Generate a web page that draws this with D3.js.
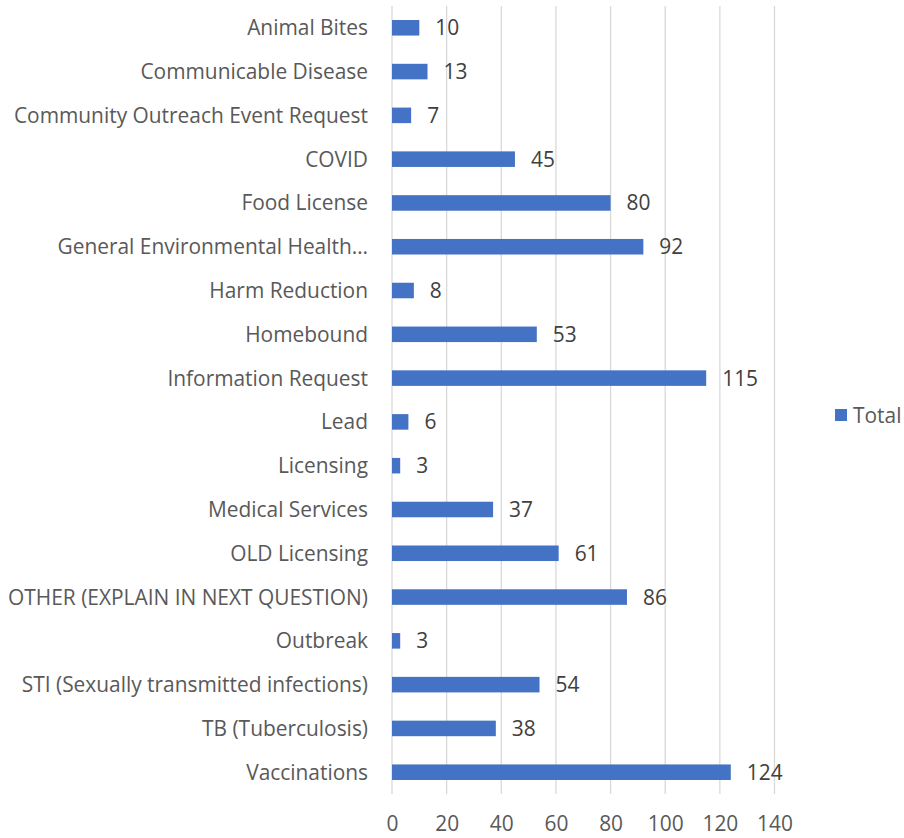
<!DOCTYPE html>
<html><head><meta charset="utf-8">
<script src="https://d3js.org/d3.v7.min.js"></script>
<style>body{margin:0;background:#fff}svg{display:block}</style>
</head><body>
<script>
const categories = ["Animal Bites","Communicable Disease","Community Outreach Event Request","COVID","Food License","General Environmental Health…","Harm Reduction","Homebound","Information Request","Lead","Licensing","Medical Services","OLD Licensing","OTHER (EXPLAIN IN NEXT QUESTION)","Outbreak","STI (Sexually transmitted infections)","TB (Tuberculosis)","Vaccinations"];
const values = [10,13,7,45,80,92,8,53,115,6,3,37,61,86,3,54,38,124];
const xTicks = [0,20,40,60,80,100,120,140];
const seriesName = "Total";

const W=904,H=838;
const svg=d3.select("body").append("svg").attr("width",W).attr("height",H);
const font="'Open Sans', sans-serif";
const fs=20.9;
const x=d3.scaleLinear().domain([0,140]).range([392,774.5]);
const y=d3.scaleBand().domain(categories).range([6,794]).paddingInner(0.645).paddingOuter(0.32);

svg.append("g").selectAll("line").data(xTicks).join("line")
  .attr("x1",d=>x(d)).attr("x2",d=>x(d)).attr("y1",6).attr("y2",794)
  .attr("stroke","#d9d9d9").attr("stroke-width",1.3);

svg.append("g").selectAll("rect").data(values).join("rect")
  .attr("x",x(0)).attr("y",(d,i)=>y(categories[i]))
  .attr("width",d=>x(d)-x(0)).attr("height",y.bandwidth())
  .attr("fill","#4472c4");

svg.append("g").selectAll("text").data(values).join("text")
  .attr("x",d=>x(d)+16).attr("y",(d,i)=>y(categories[i])+y.bandwidth()/2)
  .attr("dy","0.36em").attr("font-family",font).attr("font-size",fs).attr("fill","#404040")
  .text(d=>d);

const yAxis=d3.axisLeft(y).tickSize(0).tickPadding(0);
const gy=svg.append("g").attr("transform","translate(368,0)").call(yAxis);
gy.select(".domain").remove();
gy.selectAll("text").attr("font-family",font).attr("font-size",fs).attr("fill","#595959").attr("dy","0.36em");

const xAxis=d3.axisBottom(x).tickValues(xTicks).tickSize(0).tickPadding(0);
const gx=svg.append("g").attr("transform","translate(0,823)").call(xAxis);
gx.select(".domain").remove();
gx.selectAll("text").attr("font-family",font).attr("font-size",fs).attr("fill","#595959").attr("dy","0.36em");

const lg=svg.append("g").attr("transform","translate(835,409)");
lg.append("rect").attr("width",12).attr("height",12).attr("fill","#4472c4");
lg.append("text").attr("x",18).attr("y",6).attr("dy","0.36em").attr("font-family",font).attr("font-size",fs).attr("fill","#595959").text(seriesName);
</script>
</body></html>
